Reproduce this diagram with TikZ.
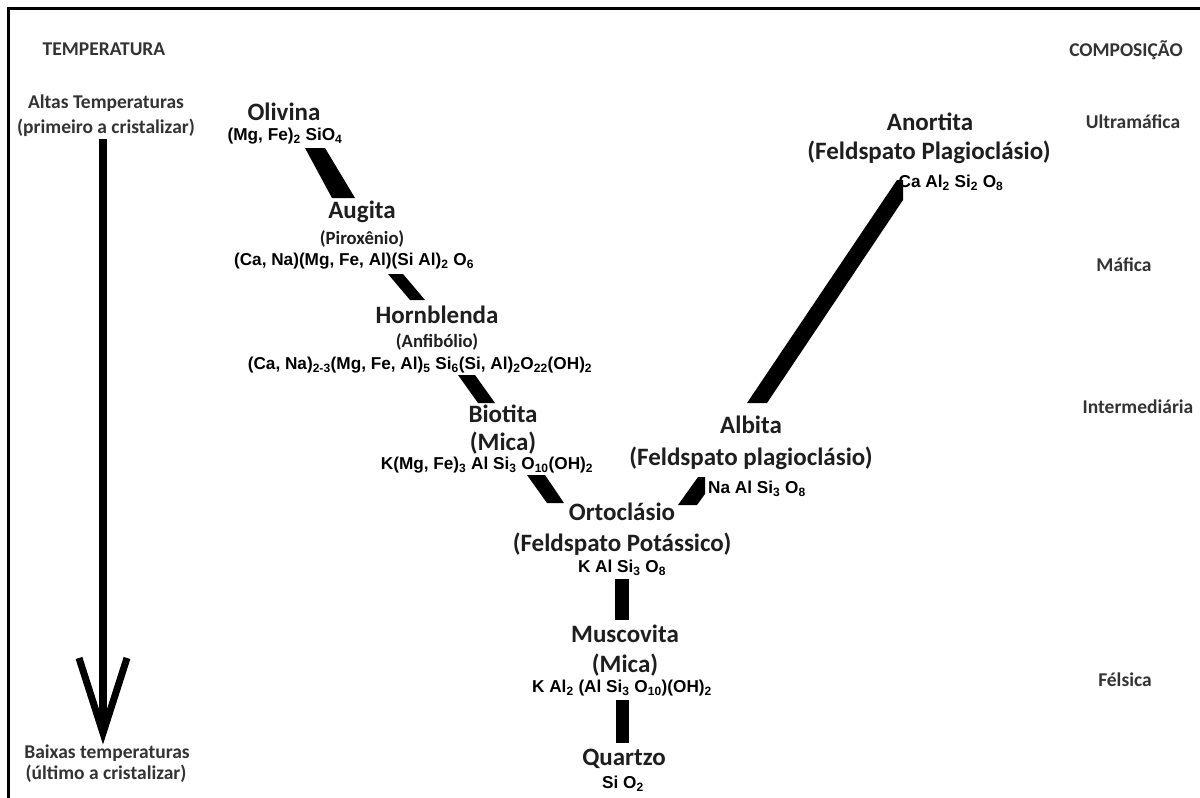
\documentclass[tikz,border=0pt]{standalone}
\usepackage{fontspec}
\setmainfont{Carlito}
\newfontfamily\arialf{Liberation Sans}
\definecolor{sidegray}{HTML}{333333}
\definecolor{mingray}{HTML}{1E1E1E}
\newcommand{\ssb}[1]{\textsubscript{#1}}
\begin{document}
\begin{tikzpicture}[x=1pt,y=-1pt,
  mineral/.style={font=\fontsize{25}{27}\selectfont\bfseries, text=mingray, inner sep=0pt},
  group/.style={font=\fontsize{18.7}{20}\selectfont\bfseries, text=mingray, inner sep=0pt},
  formula/.style={font=\arialf\bfseries\fontsize{17.2}{19}\selectfont, inner sep=0pt},
  side/.style={font=\fontsize{19.5}{21}\selectfont\bfseries, text=sidegray, inner sep=0pt},
  band/.style={fill=black}]
\useasboundingbox (0,0) rectangle (1200,798);
\fill[white] (0,0) rectangle (1200,798);
\draw[line width=3pt] (8.5,798) -- (8.5,8.5) -- (1200,8.5);

% side labels
\node[side] (temp) at (104,49) {TEMPERATURA};
\node[side] (comp) at (1126,50) {COMPOSIÇÃO};
\node[side] (altas1) at (106,103) {Altas Temperaturas};
\node[side] (altas2) at (106,128) {(primeiro a cristalizar)};
\node[side] (baixas1) at (107,753) {Baixas temperaturas};
\node[side] (baixas2) at (106,774) {(último a cristalizar)};
\node[side] (ultra) at (1133,122) {Ultramáfica};
\node[side] (mafica) at (1124,265) {Máfica};
\node[side] (inter) at (1138,407) {Intermediária};
\node[side] (felsica) at (1125,680) {Félsica};

% temperature arrow
\coordinate (tip) at (103,733);
\draw[line width=8pt] (altas2.south) ++(-3,2) -- (tip);
\draw[line width=7pt, line join=miter] ([shift={(-24,-75)}]tip) -- (tip) -- ([shift={(24,-75)}]tip);

% minerals
\node[mineral] (olivina) at (284,112) {Olivina};
\node[formula] (olivinaf) at (285,136) {(Mg, Fe)\ssb{2} SiO\ssb{4}};
\node[mineral] (augita) at (362,212) {Augita};
\node[group] (augitag) at (362,239) {(Piroxênio)};
\node[formula] (augitaf) at (354,261) {(Ca, Na)(Mg, Fe, Al)(Si Al)\ssb{2} O\ssb{6}};
\node[mineral] (hornb) at (437,315) {Hornblenda};
\node[group] (hornbg) at (437,342) {(Anfibólio)};
\node[formula] (hornbf) at (420,365) {(Ca, Na)\ssb{2-3}(Mg, Fe, Al)\ssb{5} Si\ssb{6}(Si, Al)\ssb{2}O\ssb{22}(OH)\ssb{2}};
\node[mineral] (biotita) at (503,414) {Biotita};
\node[mineral] (biotitag) at (503,443) {(Mica)};
\node[formula] (biotitaf) at (487,465) {K(Mg, Fe)\ssb{3} Al Si\ssb{3} O\ssb{10}(OH)\ssb{2}};
\node[mineral] (orto) at (622,512) {Ortoclásio};
\node[mineral] (ortog) at (622,544) {(Feldspato Potássico)};
\node[formula] (ortof) at (622,568) {K Al Si\ssb{3} O\ssb{8}};
\node[mineral] (musc) at (625,634) {Muscovita};
\node[mineral] (muscg) at (625,665) {(Mica)};
\node[formula] (muscf) at (622,688) {K Al\ssb{2} (Al Si\ssb{3} O\ssb{10})(OH)\ssb{2}};
\node[mineral] (quartzo) at (624,759) {Quartzo};
\node[formula] (quartzof) at (623,784) {Si O\ssb{2}};
\node[mineral] (anort) at (930,122) {Anortita};
\node[mineral] (anortg) at (929,152) {(Feldspato Plagioclásio)};
\node[formula] (anortf) at (951,183) {Ca Al\ssb{2} Si\ssb{2} O\ssb{8}};
\node[mineral] (albita) at (751,425) {Albita};
\node[mineral] (albitag) at (751,458) {(Feldspato plagioclásio)};
\node[formula] (albitaf) at (757,489) {Na Al Si\ssb{3} O\ssb{8}};

% reaction bands
\fill[band] (305,148) -- (325,148) -- (355,198) -- (332,198) -- cycle;
\fill[band] (388,274) -- (403,274) -- (425,300) -- (410,300) -- cycle;
\fill[band] (458,375) -- (475,375) -- (495,403) -- (478,403) -- cycle;
\fill[band] (527,475) -- (545,475) -- (564,503) -- (547,503) -- cycle;
\fill[band] (615,579) rectangle (629,620);
\fill[band] (616,700) rectangle (629,743);
\fill[band] (897,180) -- (903,180) -- (903,200) -- (767,403) -- (747,403) -- cycle;
\fill[band] (698,477) -- (705,477) -- (705,494) -- (697,505) -- (678,505) -- cycle;
\end{tikzpicture}
\end{document}
